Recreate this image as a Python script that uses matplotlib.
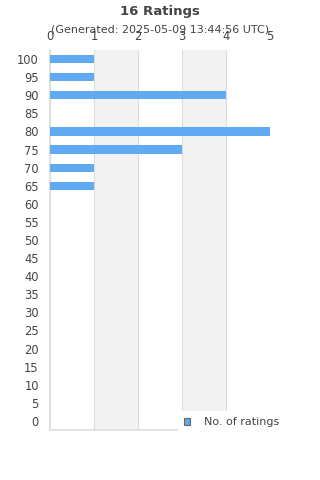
import matplotlib
matplotlib.use('Agg')
import matplotlib.pyplot as plt
from matplotlib.patches import Patch

# Rating buckets and number of ratings per bucket
ratings = [100, 95, 90, 85, 80, 75, 70, 65, 60, 55, 50, 45, 40, 35, 30, 25, 20, 15, 10, 5, 0]
counts = [1, 1, 4, 0, 5, 3, 1, 1, 0, 0, 0, 0, 0, 0, 0, 0, 0, 0, 0, 0, 0]
xticks = [0, 1, 2, 3, 4, 5]

title = '16 Ratings'
subtitle = '(Generated: 2025-05-09 13:44:56 UTC)'
seriesName = 'No. of ratings'

textColor = '#444444'
barColor = '#60a9f3'
gridColor = '#dddddd'

fig = plt.figure(figsize=(3.2, 4.8), dpi=100)
ax = fig.add_axes([50 / 320, 50 / 480, 220 / 320, 380 / 480])

ys = list(range(len(ratings)))
ax.barh(ys, counts, height=0.45, color=barColor, zorder=3)

# alternating column bands
for i in range(len(xticks) - 1):
    if i % 2 == 1:
        ax.axvspan(xticks[i], xticks[i + 1], color='#f2f2f2', zorder=0, lw=0)

ax.set_xlim(0, 5)
ax.set_ylim(len(ratings) - 0.5, -0.5)
ax.set_yticks(ys)
ax.set_yticklabels([str(r) for r in ratings])
ax.set_xticks(xticks)
ax.xaxis.tick_top()
ax.grid(axis='x', color=gridColor, linewidth=0.8, zorder=1)
ax.tick_params(axis='both', length=0, labelsize=8.3, labelcolor=textColor)
ax.tick_params(axis='x', pad=5)
ax.tick_params(axis='y', pad=8)
for side in ['top', 'right']:
    ax.spines[side].set_visible(False)
for side in ['left', 'bottom']:
    ax.spines[side].set_color(gridColor)
    ax.spines[side].set_linewidth(1.2)

fig.text(0.5, 1 - 11 / 480, title, ha='center', va='center', fontsize=9.5,
         fontweight='bold', color=textColor)
fig.text(0.5, 1 - 30 / 480, subtitle, ha='center', va='center', fontsize=8,
         color=textColor)

handle = Patch(facecolor=barColor, edgecolor='#666666', linewidth=0.8)
leg = fig.legend([handle], [seriesName], loc='center left',
                 bbox_to_anchor=(178 / 320, 1 - 422 / 480), fontsize=8,
                 frameon=True, handlelength=0.6, handleheight=0.6,
                 handletextpad=1.2, borderpad=0.5, borderaxespad=0)
leg.get_frame().set_facecolor('white')
leg.get_frame().set_edgecolor('none')
leg.get_frame().set_alpha(1)
leg.get_frame().set_boxstyle('square', pad=0)
for t in leg.get_texts():
    t.set_color(textColor)

fig.savefig('out.png', dpi=100)
